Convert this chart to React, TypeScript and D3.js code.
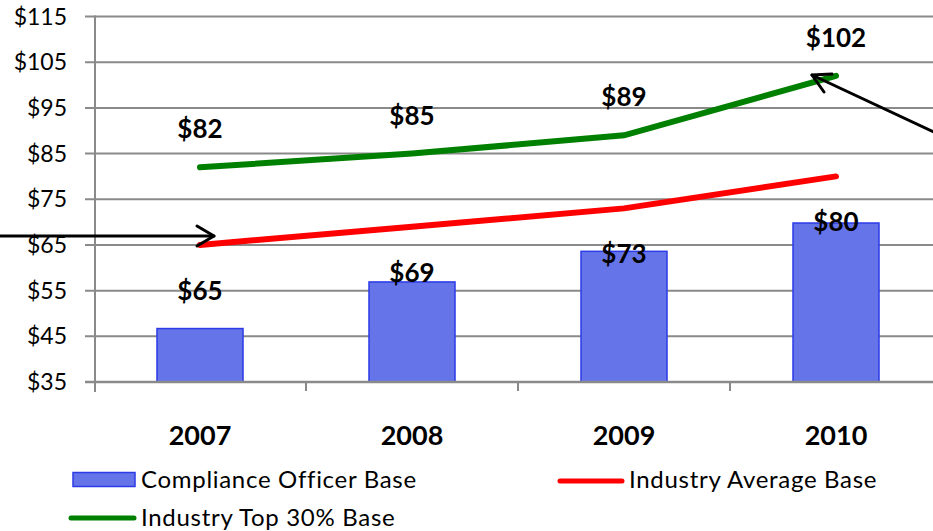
import React from "react";
import * as d3 from "d3";

const years = ["2007", "2008", "2009", "2010"];
const complianceBase = [46.7, 56.9, 63.6, 69.8];
const industryAvg = [65, 69, 73, 80];
const industryTop30 = [82, 85, 89, 102];
const yTicks = [35, 45, 55, 65, 75, 85, 95, 105, 115];

const W = 933;
const H = 531;
const FONT = "Lato, 'Open Sans', sans-serif";

export default function App() {
  const left = 94;
  const right = 942;
  const top = 16.5;
  const bottom = 382;
  const x = d3.scaleBand<string>().domain(years).range([left, right]).paddingInner(0).paddingOuter(0);
  const y = d3.scaleLinear().domain([35, 115]).range([bottom, top]);
  const bw = 86;
  const cx = (yr: string) => (x(yr) as number) + x.bandwidth() / 2;

  const line = d3
    .line<number>()
    .x((_, i) => cx(years[i]))
    .y((v) => y(v));

  const grid = "#8a8a8a";

  return (
    <svg width={W} height={H} style={{ position: "absolute", left: 0, top: 0, background: "#fff" }}>
      {yTicks.map((t) => (
        <g key={t}>
          <line x1={85} x2={W} y1={y(t)} y2={y(t)} stroke={grid} strokeWidth={2} />
          <text x={67} y={y(t) + 8} textAnchor="end" fontFamily={FONT} fontSize={23} fill="#000">
            ${t}
          </text>
        </g>
      ))}
      <line x1={95} x2={95} y1={top - 1} y2={bottom + 10} stroke={grid} strokeWidth={2} />
      {years.map((yr, i) =>
        i > 0 ? (
          <line key={yr} x1={x(yr)} x2={x(yr)} y1={bottom} y2={bottom + 9} stroke={grid} strokeWidth={2} />
        ) : null
      )}
      {years.map((yr, i) => (
        <rect
          key={yr}
          x={cx(yr) - bw / 2}
          y={y(complianceBase[i])}
          width={bw}
          height={bottom - y(complianceBase[i])}
          fill="#6674EA"
          stroke="#2B3BE6"
          strokeWidth={1.5}
        />
      ))}
      <line x1={85} x2={W} y1={bottom} y2={bottom} stroke={grid} strokeWidth={2.5} />
      <path d={line(industryAvg) || ""} fill="none" stroke="#FF0000" strokeWidth={6} strokeLinecap="round" />
      <path d={line(industryTop30) || ""} fill="none" stroke="#008000" strokeWidth={6} strokeLinecap="round" />
      {years.map((yr, i) => (
        <g key={yr}>
          <text x={cx(yr)} y={y(industryTop30[i]) - 29} textAnchor="middle" fontFamily={FONT} fontWeight="bold" fontSize={26}>
            ${industryTop30[i]}
          </text>
          <text x={cx(yr)} y={y(industryAvg[i]) + 55} textAnchor="middle" fontFamily={FONT} fontWeight="bold" fontSize={26}>
            ${industryAvg[i]}
          </text>
          <text x={cx(yr)} y={445} textAnchor="middle" fontFamily={FONT} fontWeight="bold" fontSize={27}>
            {yr}
          </text>
        </g>
      ))}
      {/* arrows */}
      <g stroke="#000" strokeWidth={3} fill="none" strokeLinecap="round" strokeLinejoin="round">
        <line x1={-2} y1={236} x2={214} y2={236} />
        <polyline points="197,226 214,236 197,246" />
        <line x1={936} y1={133} x2={812} y2={75} />
        <polyline points="824,92 812,75 832,74" />
      </g>
      {/* legend */}
      <rect x={73} y={472.5} width={62} height={14} fill="#6674EA" stroke="#2B3BE6" strokeWidth={1.5} />
      <text x={141} y={488} fontFamily={FONT} fontSize={24} letterSpacing={0.7}>Compliance Officer Base</text>
      <line x1={560} x2={622} y1={481} y2={481} stroke="#FF0000" strokeWidth={5} strokeLinecap="round" />
      <text x={629} y={488} fontFamily={FONT} fontSize={24} letterSpacing={0.7}>Industry Average Base</text>
      <line x1={71} x2={134} y1={518} y2={518} stroke="#008000" strokeWidth={5} strokeLinecap="round" />
      <text x={141} y={526} fontFamily={FONT} fontSize={24} letterSpacing={0.7}>Industry Top 30% Base</text>
    </svg>
  );
}
